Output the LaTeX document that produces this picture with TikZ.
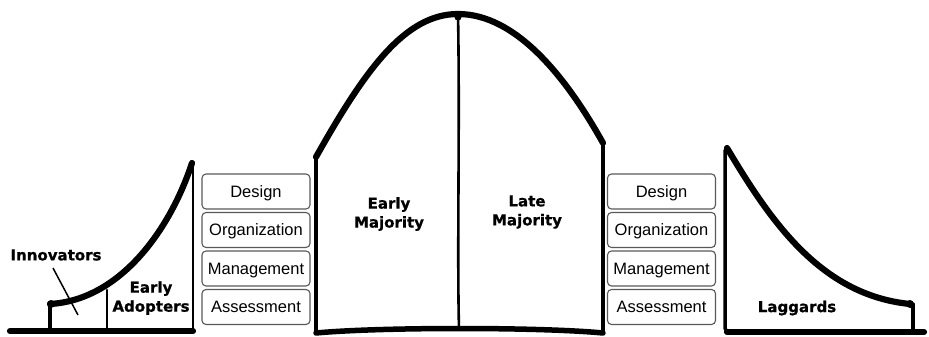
\documentclass[tikz,border=0pt]{standalone}
\usepackage{fontspec}
\setmainfont{Liberation Sans}
\newfontfamily\lblfont{DejaVu Sans}[BoldFeatures={FakeBold=0.8}]
\begin{document}
\begin{tikzpicture}[x=1pt,y=-1pt,
  curve/.style={line width=6.2pt, line cap=round, line join=round},
  side/.style={line width=3.5pt, line cap=round, line join=round},
  divider/.style={line width=2.6pt, line cap=round},
  stagebox/.style={draw=black!65, line width=1.1pt, rounded corners=4pt,
    minimum width=108pt, minimum height=35pt, inner sep=0pt,
    font=\fontsize{16.5}{18}\selectfont, text height=11.8pt, text depth=0pt},
  lbl/.style={font=\lblfont\bfseries\fontsize{15}{19}\selectfont, align=center, inner sep=0pt},
  blob/.style={fill=black}]
\useasboundingbox (0,0) rectangle (929,337);

% ---------- left: innovators + early adopters ----------
\draw[curve] (10,331) -- (193,331);
\draw[side] (50,331) -- (50,304);
\draw[curve] (50,304) .. controls (120,300) and (170,230) .. (192,163);
\fill[blob] (51,304) circle (4pt);
\draw[divider] (107,290) -- (107,331);
\draw[divider] (193,165) -- (193,331);
\node[lbl] (inn) at (56,255) {Innovators};
\coordinate (innA) at (53,268);
\coordinate (innB) at (78,315);
\draw[line width=1.5pt] (innA) -- (innB);
\node[lbl] (ea) at (151,298) {Early\\Adopters};

% ---------- left boxes ----------
\node[stagebox] (ld) at (256,191.5) {Design};
\node[stagebox] (lo) at (256,230) {Organization};
\node[stagebox] (lm) at (256,268.5) {Management};
\node[stagebox] (la) at (256,307) {Assessment};

% ---------- middle: early + late majority ----------
\draw[side] (316,333) -- (316,157);
\draw[side] (603,143) -- (603,333);
\draw[curve] (316,157) .. controls (365,70) and (405,14) .. (458,14)
             .. controls (515,14) and (565,75) .. (603,143);
\draw[curve, line width=5.5pt] (316,333) .. controls (380,327) and (540,327) .. (603,333);
\draw[divider] (458,14) .. controls (460,120) and (457,250) .. (459,329);
\fill[blob] (458,17) circle (3.6pt);
\node[lbl] (em) at (389,214) {Early\\Majority};
\node[lbl] (lmj) at (527,212) {Late\\Majority};

% ---------- right boxes ----------
\node[stagebox] (rd) at (661.5,191.5) {Design};
\node[stagebox] (ro) at (661.5,230) {Organization};
\node[stagebox] (rm) at (661.5,268.5) {Management};
\node[stagebox] (ra) at (661.5,307) {Assessment};

% ---------- right: laggards ----------
\draw[side, rounded corners=4pt] (725,150) -- (725,332) -- (760,332);
\draw[curve] (727,332) -- (924,332);
\draw[curve] (727,148) .. controls (770,220) and (820,295) .. (910,304);
\fill[blob] (910,304) circle (4pt);
\draw[side] (913,304) -- (913,332);
\node[lbl] (lag) at (797,308) {Laggards};
\end{tikzpicture}
\end{document}
